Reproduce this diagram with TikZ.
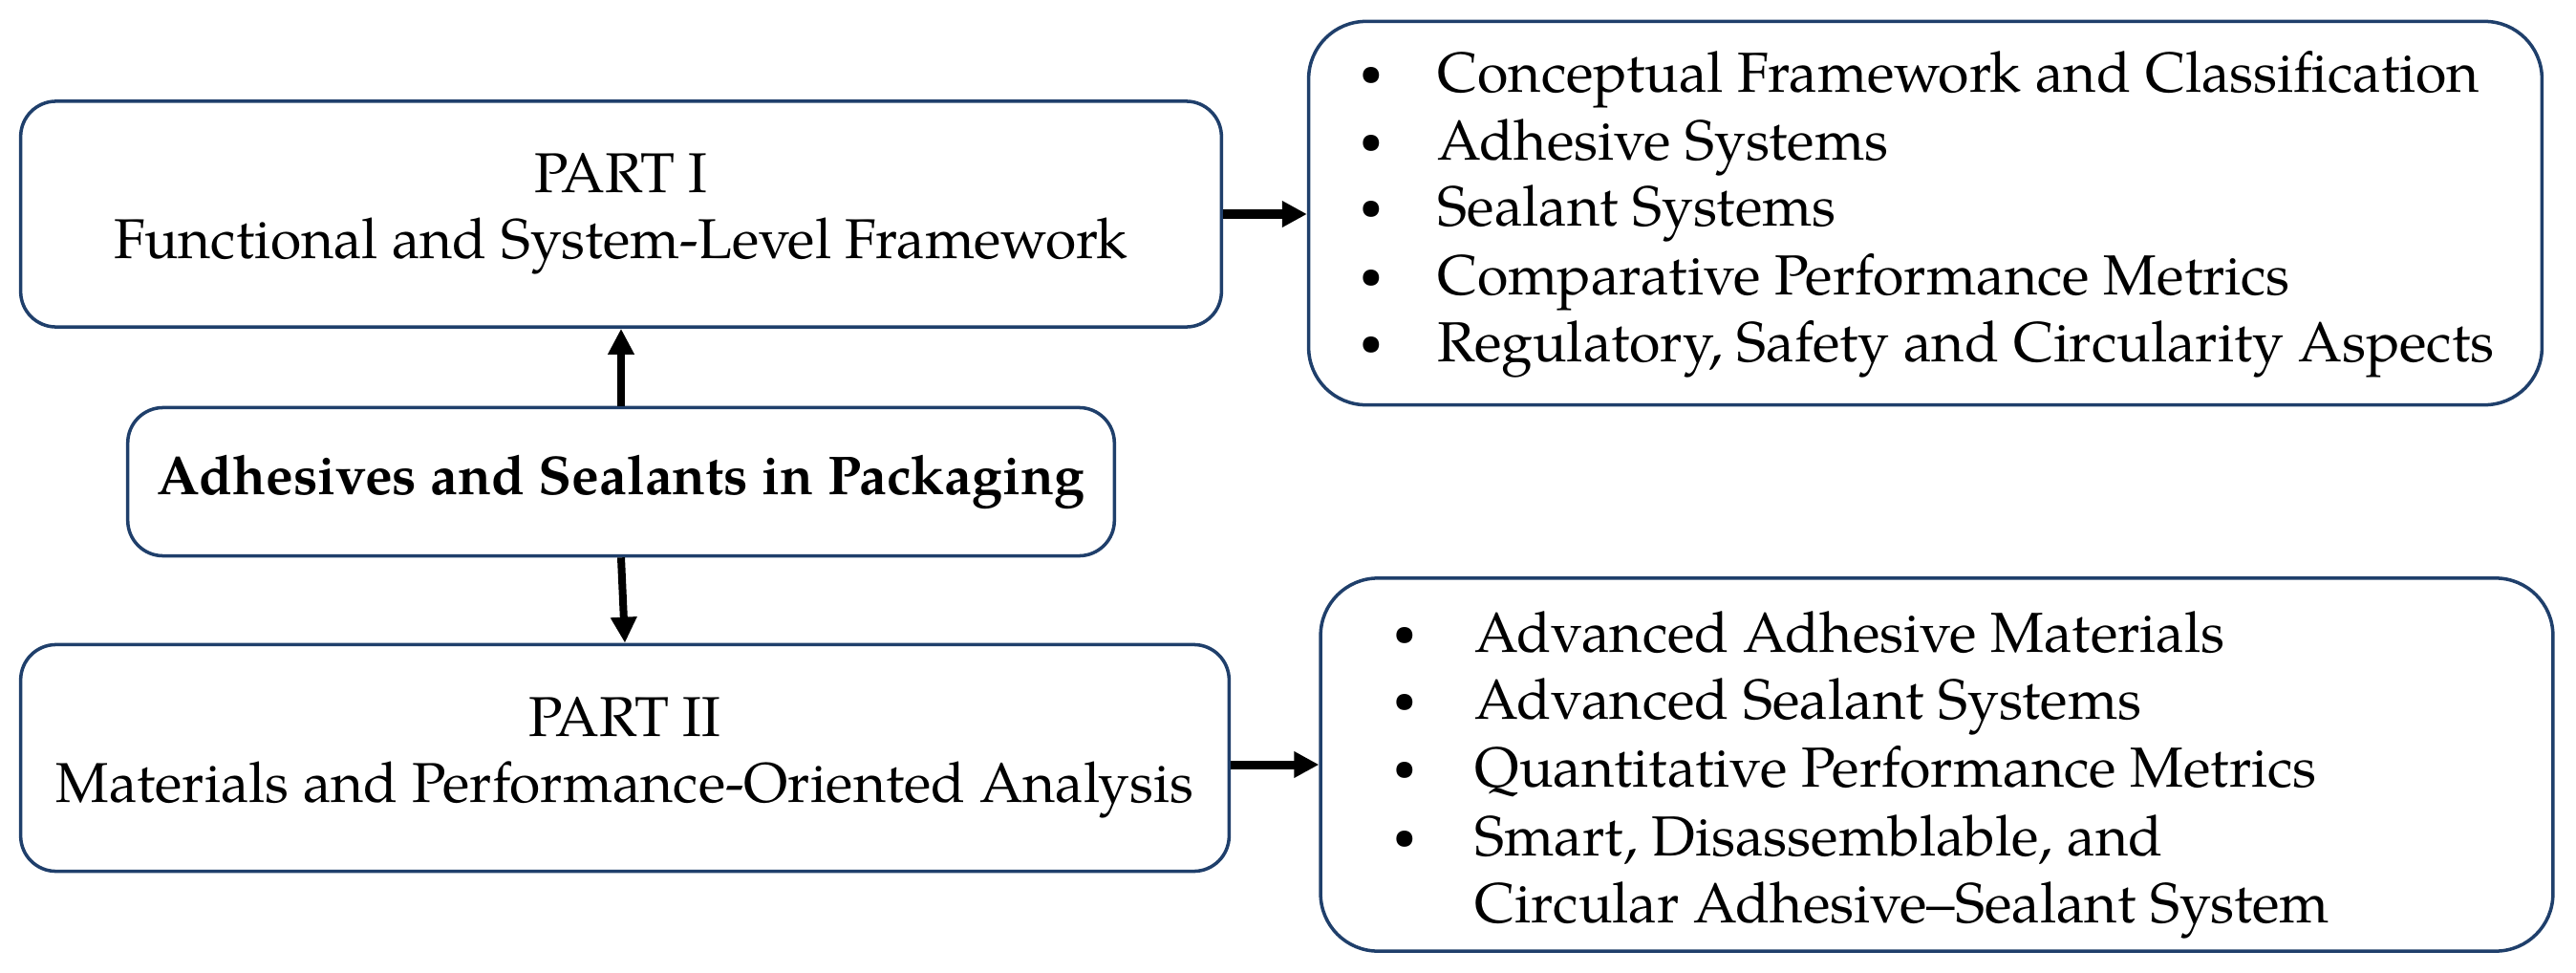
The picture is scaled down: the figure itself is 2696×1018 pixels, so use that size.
\documentclass[tikz,border=0pt]{standalone}
\usepackage{fontspec}
\setmainfont{TeX Gyre Pagella}
\usetikzlibrary{arrows.meta}
\definecolor{navy}{HTML}{1F3F6B}
\begin{document}
\begin{tikzpicture}[x=0.01cm,y=-0.01cm,
  box/.style={draw=navy, line width=1pt, rounded corners=0.37cm, inner sep=0pt, align=center,
    font=\fontsize{16.7}{19.6}\selectfont},
  lbox/.style={draw=navy, line width=1pt, rounded corners=0.6cm, inner sep=0pt},
  varr/.style={-{Triangle[length=0.27cm,width=0.26cm]}, line width=0.08cm},
  harr/.style={-{Triangle[length=0.26cm,width=0.26cm]}, line width=0.09cm},
  itm/.style={anchor=base west, inner sep=0pt, font=\fontsize{16.8}{20}\selectfont},
  bul/.style={anchor=base, inner sep=0pt, font=\fontsize{12}{14}\selectfont}
]
\useasboundingbox (0,0) rectangle (2696,1018);
\fill[white] (0,0) rectangle (2696,1018);

\node[box, minimum width=12.56cm, minimum height=2.36cm] (p1) at (650,224)
  {PART I\\Functional and System-Level Framework};
\node[box, minimum width=10.32cm, minimum height=1.55cm, font=\fontsize{16.3}{19}\selectfont\bfseries] (c) at (650,504)
  {Adhesives and Sealants in Packaging};
\node[box, minimum width=12.64cm, minimum height=2.37cm] (p2) at (654,793)
  {PART II\\Materials and Performance-Oriented Analysis};
\node[lbox, minimum width=12.90cm, minimum height=4.01cm] (r1) at (2015,223) {};
\node[lbox, minimum width=12.89cm, minimum height=3.90cm] (r2) at (2027,800) {};

% list of r1
\node[bul] (r1b1) at (1435,90) {\textbullet};
\node[bul] (r1b2) at (1435,160) {\textbullet};
\node[bul] (r1b3) at (1435,229) {\textbullet};
\node[bul] (r1b4) at (1435,301) {\textbullet};
\node[bul] (r1b5) at (1435,371) {\textbullet};
\node[itm] (r1t1) at (1504,97) {Conceptual Framework and Classification};
\node[itm] (r1t2) at (1504,167) {Adhesive Systems};
\node[itm] (r1t3) at (1504,236) {Sealant Systems};
\node[itm] (r1t4) at (1504,308) {Comparative Performance Metrics};
\node[itm] (r1t5) at (1504,378) {Regulatory, Safety and Circularity Aspects};

% list of r2
\node[bul] (r2b1) at (1470,675) {\textbullet};
\node[bul] (r2b2) at (1470,745) {\textbullet};
\node[bul] (r2b3) at (1470,816) {\textbullet};
\node[bul] (r2b4) at (1470,888) {\textbullet};
\node[itm] (r2t1) at (1543,682) {Advanced Adhesive Materials};
\node[itm] (r2t2) at (1543,752) {Advanced Sealant Systems};
\node[itm] (r2t3) at (1543,823) {Quantitative Performance Metrics};
\node[itm] (r2t4) at (1543,895) {Smart, Disassemblable, and};
\node[itm] (r2t5) at (1543,965) {Circular Adhesive–Sealant System};

% connectors
\draw[varr] (c.north) -- (p1.south);
\draw[varr] (c.south) -- (p2.north);
\draw[harr] (p1.east) -- (p1.east -| r1.west);
\draw[harr] (p2.east |- r2.west) -- (r2.west);
\end{tikzpicture}
\end{document}
